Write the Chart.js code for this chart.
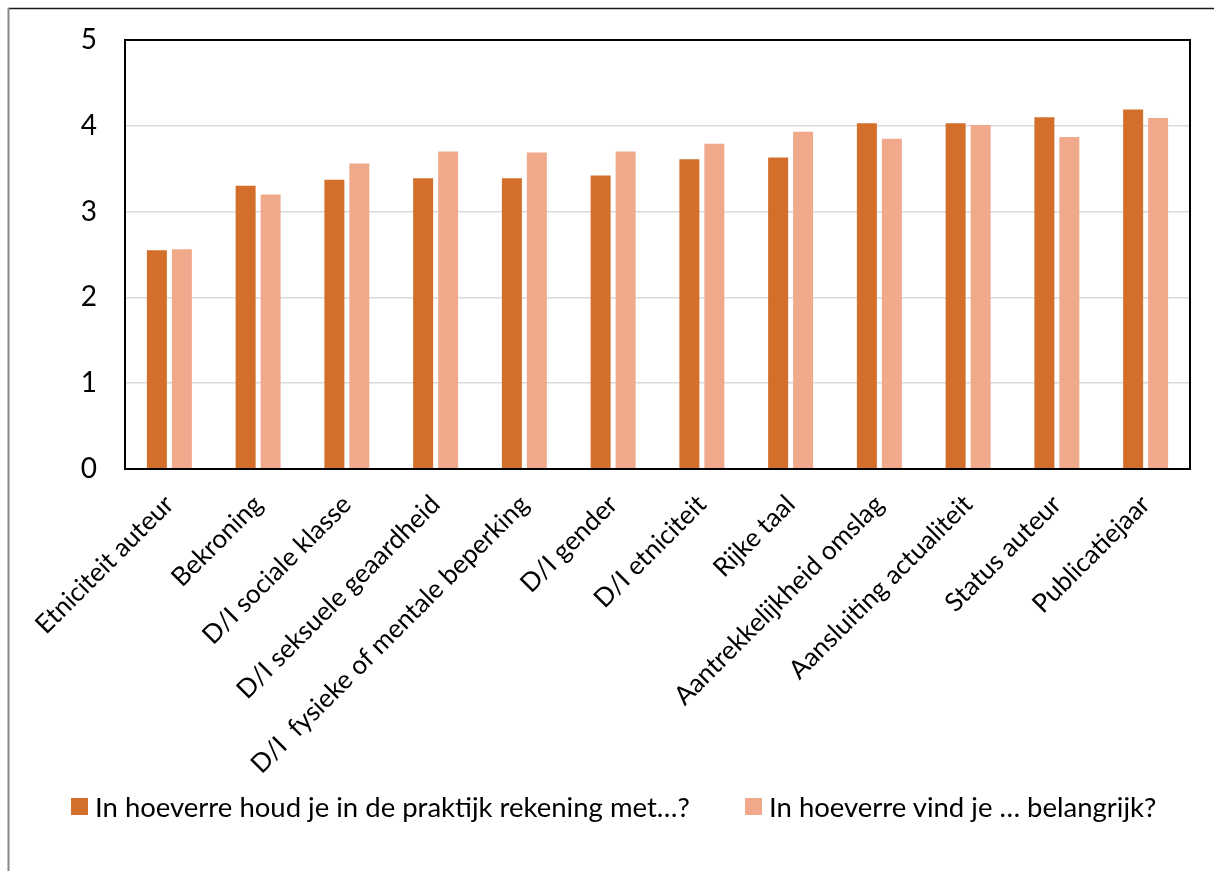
<!DOCTYPE html>
<html>
<head>
<meta charset="utf-8">
<script src="https://cdn.jsdelivr.net/npm/chart.js@4"></script>
<style>
  html, body { margin: 0; padding: 0; background: #fff; }
  #wrap { position: relative; width: 1214px; height: 871px; }
  .lg { position: absolute; top: 791px; height: 30px; display: flex; align-items: center;
        font-family: Lato, sans-serif; font-size: 27.5px; color: #000; white-space: nowrap; }
  .lg .sw { width: 17px; height: 17px; margin-right: 7px; flex: none; }
</style>
</head>
<body>
<div id="wrap">
  <canvas id="c" width="1214" height="871"></canvas>
  <div class="lg" id="lg0" style="left:71px"><span class="sw"></span><span class="tx"></span></div>
  <div class="lg" id="lg1" style="left:745px"><span class="sw"></span><span class="tx"></span></div>
</div>
<script>
const categories = [
  "Etniciteit auteur",
  "Bekroning",
  "D/I sociale klasse",
  "D/I seksuele geaardheid",
  "D/I  fysieke of mentale beperking",
  "D/I gender",
  "D/I etniciteit",
  "Rijke taal",
  "Aantrekkelijkheid omslag",
  "Aansluiting actualiteit",
  "Status auteur",
  "Publicatiejaar"
];
const seriesNames = [
  "In hoeverre houd je in de praktijk rekening met\u2026?",
  "In hoeverre vind je \u2026 belangrijk?"
];
const praktijk = [2.55, 3.30, 3.37, 3.39, 3.39, 3.42, 3.61, 3.63, 4.03, 4.03, 4.10, 4.19];
const belangrijk = [2.56, 3.20, 3.56, 3.70, 3.69, 3.70, 3.79, 3.93, 3.85, 4.01, 3.87, 4.09];
const yTicks = [0, 1, 2, 3, 4, 5];
const seriesColors = ['#D36F2B', '#F0A98B'];

const FONT = "Lato";

const framePlugin = {
  id: 'frame',
  beforeDraw(chart) {
    const ctx = chart.ctx;
    ctx.save();
    ctx.fillStyle = '#fff';
    ctx.fillRect(0, 0, chart.width, chart.height);
    ctx.strokeStyle = '#1a1a1a';
    ctx.lineWidth = 1.5;
    ctx.beginPath();
    ctx.moveTo(8, 8.5);
    ctx.lineTo(chart.width, 8.5);
    ctx.stroke();
    ctx.strokeStyle = '#888';
    ctx.lineWidth = 2;
    ctx.beginPath();
    ctx.moveTo(8.5, 8);
    ctx.lineTo(8.5, chart.height);
    ctx.stroke();
    ctx.restore();
  },
  afterDatasetsDraw(chart) {
    const a = chart.chartArea;
    const ctx = chart.ctx;
    ctx.save();
    ctx.strokeStyle = '#000';
    ctx.lineWidth = 2;
    ctx.strokeRect(a.left, a.top, a.right - a.left, a.bottom - a.top);
    ctx.restore();
  }
};

const chart = new Chart(document.getElementById('c'), {
  type: 'bar',
  data: {
    labels: categories,
    datasets: [
      { label: seriesNames[0], data: praktijk, backgroundColor: seriesColors[0], borderWidth: 0 },
      { label: seriesNames[1], data: belangrijk, backgroundColor: seriesColors[1], borderWidth: 0 }
    ]
  },
  options: {
    responsive: false,
    animation: false,
    devicePixelRatio: 1,
    layout: { padding: { top: 40, right: 24, left: 0, bottom: 90 } },
    datasets: { bar: { categoryPercentage: 0.563, barPercentage: 0.8 } },
    plugins: {
      title: { display: false },
      tooltip: { enabled: false },
      legend: { display: false }
    },
    scales: {
      x: {
        grid: { display: false, drawTicks: false },
        border: { display: true, color: '#000', width: 2 },
        ticks: {
          font: { family: FONT, size: 26 },
          color: '#000',
          minRotation: 45,
          maxRotation: 45,
          autoSkip: false,
          padding: 20
        },
        afterFit(scale) { scale.height = 312; scale.paddingLeft = 0; scale.paddingRight = 0; }
      },
      y: {
        min: 0,
        max: 5,
        afterBuildTicks(scale) { scale.ticks = yTicks.map(v => ({ value: v })); },
        grid: { color: '#d9d9d9', lineWidth: 1.5, drawTicks: false },
        border: { display: true, color: '#000', width: 2 },
        ticks: {
          font: { family: FONT, size: 28 },
          color: '#000',
          padding: 28
        },
        afterFit(scale) { scale.width = 125; scale.paddingTop = 0; scale.paddingBottom = 0; }
      }
    }
  },
  plugins: [framePlugin]
});

chart.data.datasets.forEach((ds, i) => {
  const el = document.getElementById('lg' + i);
  el.querySelector('.sw').style.background = ds.backgroundColor;
  el.querySelector('.tx').textContent = ds.label;
});
</script>
</body>
</html>
